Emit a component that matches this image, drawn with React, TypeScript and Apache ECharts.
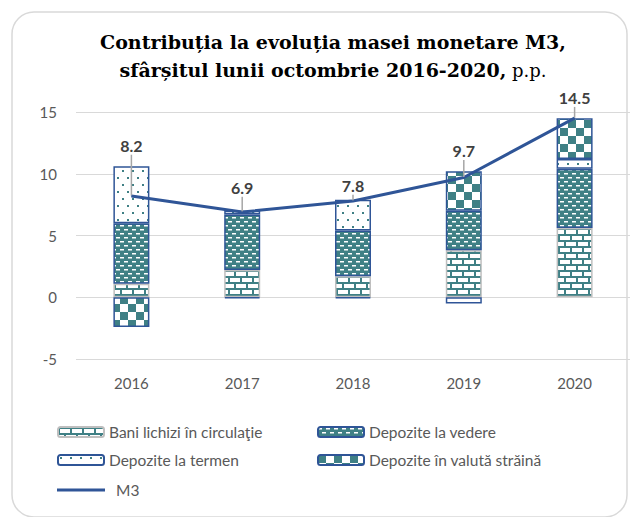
import React, { useEffect, useRef } from 'react';
import * as echarts from 'echarts';

const years = ['2016', '2017', '2018', '2019', '2020'];
const baniLichizi = [1.1, 2.2, 1.7, 3.8, 5.6];
const depoziteVedere = [4.9, 4.5, 3.7, 3.2, 4.8];
const depoziteTermen = [4.6, 0.3, 2.5, -0.5, 0.8];
const depoziteValuta = [-2.4, -0.1, -0.1, 3.2, 3.3];
const m3 = [8.2, 6.9, 7.8, 9.7, 14.5];
const yMin = -5;
const yMax = 15;
const yStep = 5;

const seriesNames = [
  'Bani lichizi în circulaţie',
  'Depozite la vedere',
  'Depozite la termen',
  'Depozite în valută străină',
  'M3',
];

// style-only arrays (label placement)
const labelDistance = [6, 15, 6, 6, 11];
const labelLift = [-35, 0, 0, -11, 0];

const TEAL = '#3F8085';
const BLUE = '#2F5597';
const GRAY_TXT = '#595959';
const FONT = 'Lato, "Liberation Sans", sans-serif';

function makePattern(w: number, h: number, draw: (ctx: CanvasRenderingContext2D) => void) {
  const c = document.createElement('canvas');
  c.width = w;
  c.height = h;
  const ctx = c.getContext('2d') as CanvasRenderingContext2D;
  draw(ctx);
  return { image: c.toDataURL(), repeat: 'repeat', imageWidth: w, imageHeight: h } as any;
}

export default function App() {
  const ref = useRef<HTMLDivElement>(null);
  useEffect(() => {
    if (!ref.current) return;
    const chart = echarts.init(ref.current, undefined, { renderer: 'svg' });

    const brick = makePattern(24, 12, (ctx) => {
      ctx.fillStyle = '#fff';
      ctx.fillRect(0, 0, 24, 12);
      ctx.fillStyle = TEAL;
      ctx.fillRect(0, 0, 24, 2);
      ctx.fillRect(0, 6, 24, 2);
      ctx.fillRect(0, 0, 2, 6);
      ctx.fillRect(12, 0, 2, 6);
      ctx.fillRect(6, 6, 2, 6);
      ctx.fillRect(18, 6, 2, 6);
    });
    const dashes = makePattern(8, 8, (ctx) => {
      ctx.fillStyle = TEAL;
      ctx.fillRect(0, 0, 8, 8);
      ctx.fillStyle = '#fff';
      ctx.fillRect(0, 1, 4, 1.5);
      ctx.fillRect(4, 5, 4, 1.5);
    });
    const dots = makePattern(10, 14, (ctx) => {
      ctx.fillStyle = '#fff';
      ctx.fillRect(0, 0, 10, 14);
      ctx.fillStyle = TEAL;
      ctx.fillRect(2, 2, 2, 2);
      ctx.fillRect(7, 9, 2, 2);
    });
    const checker = makePattern(16, 16, (ctx) => {
      ctx.fillStyle = '#fff';
      ctx.fillRect(0, 0, 16, 16);
      ctx.fillStyle = TEAL;
      ctx.fillRect(0, 0, 8, 8);
      ctx.fillRect(8, 8, 8, 8);
    });

    const barValues = [baniLichizi, depoziteVedere, depoziteTermen, depoziteValuta];
    const fills = [brick, dashes, dots, checker];
    const borders = ['#BFBFBF', BLUE, BLUE, BLUE];

    const barSeries = barValues.map((vals, i) => ({
      name: seriesNames[i],
      type: 'bar',
      stack: 'total',
      barWidth: 36,
      data: vals,
      itemStyle: { color: fills[i], borderColor: borders[i], borderWidth: 1.5 },
    }));

    const legendBase = {
      itemWidth: 46,
      itemHeight: 10,
      itemGap: 0,
      padding: 0,
      textStyle: { color: GRAY_TXT, fontSize: 15.5, fontFamily: FONT, lineHeight: 16 },
    };

    const option: any = {
      animation: false,
      grid: { left: 76, top: 112, width: 565, height: 247 },
      xAxis: {
        type: 'category',
        data: years,
        axisLine: { show: false, onZero: false },
        axisTick: { show: false },
        axisLabel: { color: GRAY_TXT, fontSize: 15, fontFamily: FONT, margin: 16 },
      },
      yAxis: {
        type: 'value',
        min: yMin,
        max: yMax,
        interval: yStep,
        axisLine: { show: false },
        axisTick: { show: false },
        splitLine: { lineStyle: { color: '#D9D9D9', width: 1 } },
        axisLabel: { color: GRAY_TXT, fontSize: 15, fontFamily: FONT, margin: 19 },
      },
      legend: [
        { ...legendBase, left: 57, top: 424, data: [seriesNames[0]] },
        { ...legendBase, left: 317, top: 424, data: [seriesNames[1]] },
        { ...legendBase, left: 57, top: 452, data: [seriesNames[2]] },
        { ...legendBase, left: 317, top: 452, data: [seriesNames[3]] },
        { ...legendBase, left: 57, top: 482, itemWidth: 48, itemHeight: 3, itemGap: 10, icon: 'rect', data: [seriesNames[4]], textStyle: { ...legendBase.textStyle, padding: [0, 0, 0, 6] } },
      ],
      graphic: [
        {
          type: 'rect',
          shape: { x: 12, y: 12, width: 615, height: 505, r: 22 },
          style: { fill: 'none', stroke: '#D9D9D9', lineWidth: 1.5 },
          silent: true,
        },
        {
          type: 'text',
          x: 333,
          y: 28,
          style: {
            text: '{b|Contribuția la evoluția masei monetare M3,}\n{b|sfârșitul lunii octombrie 2016-2020,}{r| p.p.}',
            align: 'center',
            verticalAlign: 'top',
            rich: {
              b: { fontFamily: '"DejaVu Serif", serif', fontWeight: 'bold', fontSize: 19, lineHeight: 28, fill: '#000' },
              r: { fontFamily: '"DejaVu Serif", serif', fontSize: 18, lineHeight: 28, fill: '#000' },
            },
          },
        },
      ],
      series: [
        ...barSeries,
        {
          name: seriesNames[4],
          type: 'line',
          data: m3.map((v, i) => ({ value: v, label: { distance: labelDistance[i] } })),
          symbol: 'circle',
          symbolSize: 1,
          showSymbol: true,
          z: 5,
          lineStyle: { color: BLUE, width: 3 },
          itemStyle: { color: BLUE },
          label: {
            show: true,
            position: 'top',
            color: '#404040',
            fontSize: 16,
            fontWeight: 'bold',
            fontFamily: FONT,
            backgroundColor: '#fff',
            padding: [1, 3],
          },
          labelLine: { show: true, lineStyle: { color: '#A6A6A6', width: 1.5 } },
          labelLayout: (p: any) => (labelLift[p.dataIndex] ? { dy: labelLift[p.dataIndex] } : {}),
        },
      ],
    };
    chart.setOption(option);
    return () => chart.dispose();
  }, []);
  return (
    <div
      ref={ref}
      style={{ position: 'fixed', left: 0, top: 0, width: 630, height: 517, background: '#fff' }}
    />
  );
}
